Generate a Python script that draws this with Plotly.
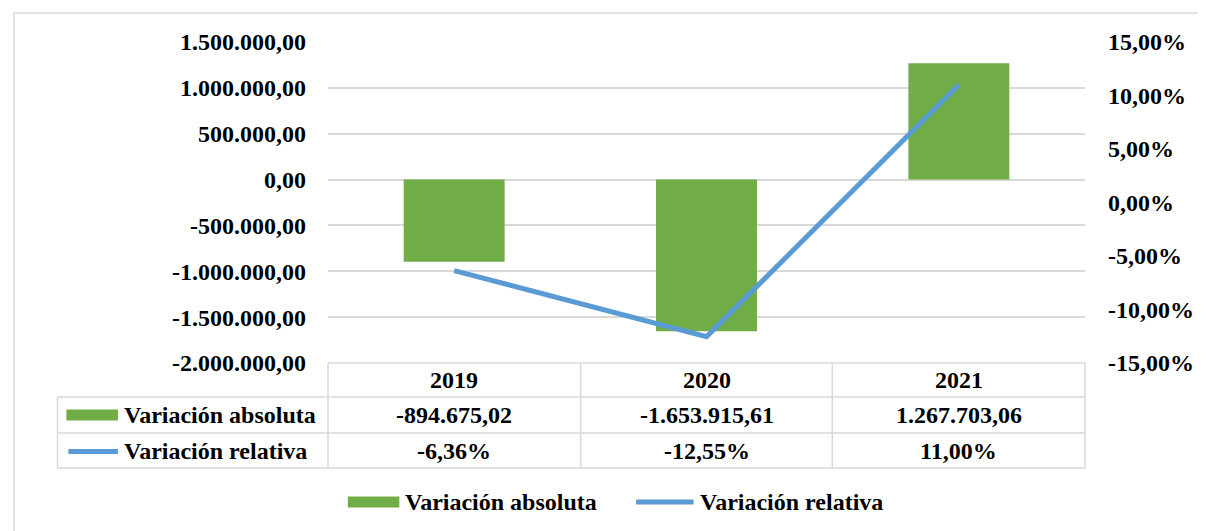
import plotly.graph_objects as go

# ---- data ----
years = ["2019", "2020", "2021"]
abs_var = [-894675.02, -1653915.61, 1267703.06]
rel_var = [-0.0636, -0.1255, 0.1100]
series_names = ["Variación absoluta", "Variación relativa"]
left_ticks = [-2000000, -1500000, -1000000, -500000, 0, 500000, 1000000, 1500000]
right_ticks = [-0.15, -0.10, -0.05, 0.0, 0.05, 0.10, 0.15]

# ---- style ----
GREEN = "#70AD47"
BLUE = "#5B9BD5"
GRID = "#D9D9D9"
FONT = "Liberation Serif"
FS = 24

OFF = 8  # default page body margin
W, H = 1206 - OFF, 531 - OFF
PL, PR, PT, PB = 328, 1092, 42, 363  # plot area in reference pixels


def px(x):
    return (x - PL) / (PR - PL)


def py(y):
    return (PB - y) / (PB - PT)


def fmt_abs(v):
    s = f"{v:,.2f}"
    return s.replace(",", "#").replace(".", ",").replace("#", ".")


def fmt_rel(v):
    return f"{v*100:.2f}%".replace(".", ",")


fig = go.Figure()
fig.add_trace(go.Bar(x=years, y=abs_var, name=series_names[0],
                     marker=dict(color=GREEN, line=dict(width=0)),
                     yaxis="y", showlegend=False))
fig.add_trace(go.Scatter(x=years, y=rel_var, name=series_names[1], mode="lines",
                         line=dict(color=BLUE, width=5),
                         yaxis="y2", showlegend=False))

shapes = []
annotations = []

# outer chart border
shapes.append(dict(type="rect", xref="paper", yref="paper",
                   x0=px(11), x1=px(1225), y0=py(13), y1=py(550),
                   line=dict(color=GRID, width=1.5), layer="below"))

# table geometry
col_edges = [328, 583, 837, 1092]
row_edges = [363, 397, 433, 468]
lab_left = 55
line_style = dict(color=GRID, width=1.5)

shapes.append(dict(type="line", xref="paper", yref="paper",
                   x0=px(col_edges[0]), x1=px(col_edges[-1]), y0=py(row_edges[0]), y1=py(row_edges[0]),
                   line=line_style))
for r in row_edges[1:]:
    shapes.append(dict(type="line", xref="paper", yref="paper",
                       x0=px(lab_left), x1=px(col_edges[-1]), y0=py(r), y1=py(r),
                       line=line_style))
for c in col_edges:
    shapes.append(dict(type="line", xref="paper", yref="paper",
                       x0=px(c), x1=px(c), y0=py(row_edges[0]), y1=py(row_edges[-1]),
                       line=line_style))
shapes.append(dict(type="line", xref="paper", yref="paper",
                   x0=px(lab_left), x1=px(lab_left), y0=py(row_edges[1]), y1=py(row_edges[-1]),
                   line=line_style))

tfont = dict(family=FONT, size=FS, color="#000000", weight="bold")

for i, yr in enumerate(years):
    cx = (col_edges[i] + col_edges[i + 1]) / 2
    annotations.append(dict(xref="paper", yref="paper", x=px(cx), y=py((row_edges[0] + row_edges[1]) / 2),
                            text=yr, showarrow=False, font=tfont, xanchor="center", yanchor="middle"))
    annotations.append(dict(xref="paper", yref="paper", x=px(cx), y=py((row_edges[1] + row_edges[2]) / 2),
                            text=fmt_abs(abs_var[i]), showarrow=False, font=tfont,
                            xanchor="center", yanchor="middle"))
    annotations.append(dict(xref="paper", yref="paper", x=px(cx), y=py((row_edges[2] + row_edges[3]) / 2),
                            text=fmt_rel(rel_var[i]), showarrow=False, font=tfont,
                            xanchor="center", yanchor="middle"))

# row labels with keys
r1 = (row_edges[1] + row_edges[2]) / 2
r2 = (row_edges[2] + row_edges[3]) / 2
shapes.append(dict(type="rect", xref="paper", yref="paper",
                   x0=px(64), x1=px(116), y0=py(r1 - 5.5), y1=py(r1 + 5.5),
                   fillcolor=GREEN, line=dict(width=0)))
shapes.append(dict(type="line", xref="paper", yref="paper",
                   x0=px(66), x1=px(116), y0=py(r2 + 1), y1=py(r2 + 1),
                   line=dict(color=BLUE, width=5)))
annotations.append(dict(xref="paper", yref="paper", x=px(120), y=py(r1), text=series_names[0],
                        showarrow=False, font=tfont, xanchor="left", yanchor="middle"))
annotations.append(dict(xref="paper", yref="paper", x=px(120), y=py(r2), text=series_names[1],
                        showarrow=False, font=tfont, xanchor="left", yanchor="middle"))

# bottom legend
ly = 502
shapes.append(dict(type="rect", xref="paper", yref="paper",
                   x0=px(348), x1=px(400), y0=py(ly - 5.5), y1=py(ly + 5.5),
                   fillcolor=GREEN, line=dict(width=0)))
annotations.append(dict(xref="paper", yref="paper", x=px(404), y=py(ly), text=series_names[0],
                        showarrow=False, font=tfont, xanchor="left", yanchor="middle"))
shapes.append(dict(type="line", xref="paper", yref="paper",
                   x0=px(639), x1=px(697), y0=py(ly), y1=py(ly),
                   line=dict(color=BLUE, width=5)))
annotations.append(dict(xref="paper", yref="paper", x=px(701), y=py(ly), text=series_names[1],
                        showarrow=False, font=tfont, xanchor="left", yanchor="middle"))

axfont = dict(family=FONT, size=FS, color="#000000", weight="bold")

fig.update_layout(
    width=W, height=H, autosize=False,
    margin=dict(l=PL - OFF, r=W - (PR - OFF), t=PT - OFF, b=H - (PB - OFF), pad=0),
    paper_bgcolor="white", plot_bgcolor="white",
    bargap=0.6,
    font=dict(family=FONT, size=FS, color="#000000"),
    xaxis=dict(type="category", showticklabels=False, showgrid=False, zeroline=False,
               showline=False, ticks=""),
    yaxis=dict(range=[left_ticks[0], left_ticks[-1]], tickmode="array", tickvals=left_ticks,
               ticktext=[fmt_abs(v) for v in left_ticks],
               showgrid=True, gridcolor=GRID, gridwidth=1.5, zeroline=False,
               showline=False, ticks="", ticklabelstandoff=21, tickfont=axfont),
    yaxis2=dict(range=[right_ticks[0], right_ticks[-1]], tickmode="array", tickvals=right_ticks,
                ticktext=[fmt_rel(v) for v in right_ticks], overlaying="y", side="right",
                showgrid=False, zeroline=False, showline=False, ticks="", ticklabelstandoff=22,
                tickfont=axfont),
    shapes=shapes,
    annotations=annotations,
)

fig.write_html("out.html")
